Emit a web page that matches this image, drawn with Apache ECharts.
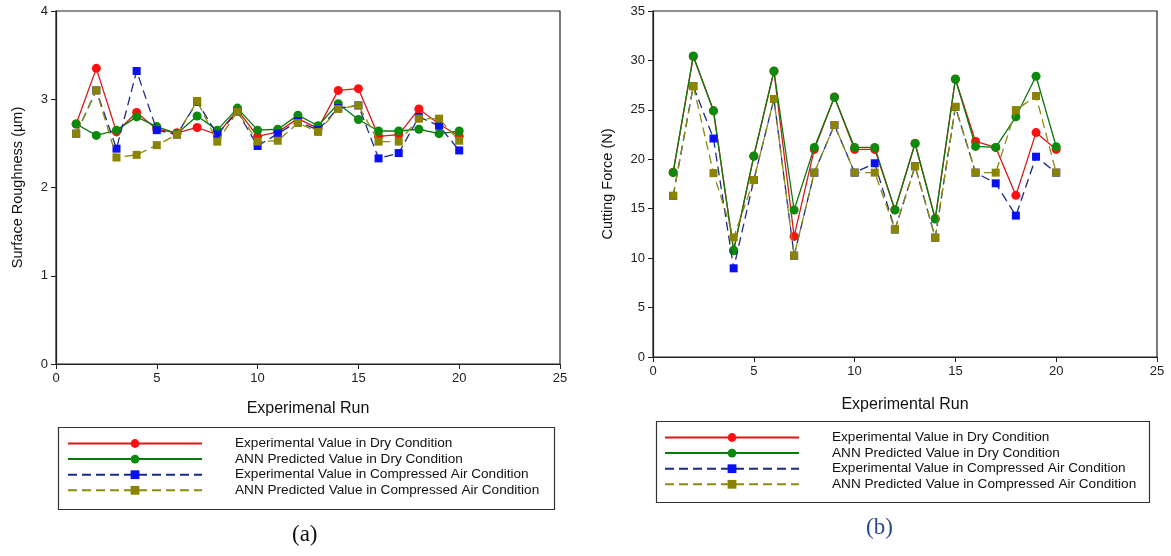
<!DOCTYPE html>
<html>
<head>
<meta charset="utf-8">
<script src="https://cdn.jsdelivr.net/npm/echarts@6/dist/echarts.min.js"></script>
<style>
html,body{margin:0;padding:0;background:#fff;}
#c{width:1171px;height:556px;}
</style>
</head>
<body>
<div id="c"></div>
<script>
// ---------- data ----------
const runs = [1,2,3,4,5,6,7,8,9,10,11,12,13,14,15,16,17,18,19,20];
const seriesNames = [
  'Experimental Value in Dry Condition',
  'ANN Predicted Value in Dry Condition',
  'Experimental Value in Compressed Air Condition',
  'ANN Predicted Value in Compressed Air Condition'
];
// (a) Surface roughness (µm)
const srExpDry = [2.72,3.35,2.63,2.85,2.66,2.62,2.68,2.60,2.88,2.58,2.63,2.78,2.67,3.10,3.12,2.58,2.60,2.89,2.72,2.58];
const srAnnDry = [2.72,2.59,2.65,2.80,2.69,2.61,2.81,2.65,2.90,2.65,2.66,2.82,2.70,2.95,2.77,2.64,2.64,2.66,2.61,2.64];
const srExpAir = [2.61,3.10,2.44,3.32,2.65,2.60,2.97,2.60,2.86,2.47,2.61,2.75,2.65,2.90,2.93,2.33,2.39,2.80,2.70,2.42];
const srAnnAir = [2.61,3.10,2.34,2.37,2.48,2.60,2.98,2.52,2.86,2.52,2.53,2.73,2.63,2.89,2.93,2.52,2.52,2.78,2.78,2.53];
// (b) Cutting force (N)
const cfExpDry = [18.7,30.4,24.9,10.8,20.3,28.9,12.2,21.0,26.3,21.0,21.0,14.9,21.6,14.0,28.1,21.8,21.2,16.35,22.7,21.0];
const cfAnnDry = [18.65,30.45,24.9,10.75,20.33,28.93,14.87,21.2,26.27,21.2,21.2,14.87,21.6,13.96,28.12,21.3,21.2,24.3,28.4,21.27];
const cfExpAir = [16.3,27.4,22.1,8.97,17.9,26.1,10.25,18.65,23.47,18.65,19.6,12.9,19.3,12.07,25.3,18.65,17.57,14.3,20.26,18.65];
const cfAnnAir = [16.3,27.4,18.6,12.1,17.9,26.1,10.25,18.65,23.47,18.65,18.65,12.9,19.3,12.07,25.3,18.65,18.65,24.98,26.4,18.65];

const xName = ['Experimenal Run', 'Experimental Run'];
const yName = ['Surface Roughness (\u00b5m)', 'Cutting Force (N)'];
const panelLabels = ['(a)', '(b)'];

// ---------- styling ----------
const FONT = 'Liberation Sans, Arial, sans-serif';
const styles = [
  {line:'#d81818', sym:'#ff1010', symbol:'circle', size:9, dash:'solid'},
  {line:'#0a7a0a', sym:'#0b8a0b', symbol:'circle', size:9, dash:'solid'},
  {line:'#1a2a8a', sym:'#0a10f0', symbol:'rect', size:8, dash:[9,5]},
  {line:'#8a8a10', sym:'#8a8400', symbol:'rect', size:8, dash:[9,5]}
];

function pairs(arr){ return runs.map((r,i)=>[r, arr[i]]); }

function mkSeries(dataArrs, gi){
  return dataArrs.map((d,k)=>({
    name: seriesNames[k],
    type: 'line',
    xAxisIndex: gi, yAxisIndex: gi,
    data: pairs(d),
    symbol: styles[k].symbol,
    symbolSize: styles[k].size,
    showSymbol: true,
    lineStyle: {color: styles[k].line, width: 1.3, type: styles[k].dash},
    itemStyle: {color: styles[k].sym, borderWidth: 0},
    emphasis: {disabled: true},
    animation: false,
    z: 2 + k
  }));
}

function xAx(gi, gap){
  return {
    gridIndex: gi, type: 'value', min: 0, max: 25, interval: 5,
    name: xName[gi], nameLocation: 'middle', nameGap: gap,
    nameTextStyle: {fontFamily: FONT, fontSize: 16, color: '#111'},
    axisLine: {show: true, onZero: false, lineStyle: {color: '#222', width: 1.2}},
    axisTick: {show: true, length: 5, lineStyle: {color: '#222'}},
    axisLabel: {fontFamily: FONT, fontSize: 13, color: '#222', margin: 8},
    splitLine: {show: false}
  };
}
function yAx(gi, max, interval, gap){
  return {
    gridIndex: gi, type: 'value', min: 0, max: max, interval: interval,
    name: yName[gi], nameLocation: 'middle', nameGap: gap, nameRotate: 90,
    nameTextStyle: {fontFamily: FONT, fontSize: 14.5, color: '#111'},
    axisLine: {show: true, onZero: false, lineStyle: {color: '#222', width: 1.2}},
    axisTick: {show: true, length: 5, lineStyle: {color: '#222'}},
    axisLabel: {fontFamily: FONT, fontSize: 13, color: '#222', margin: 8},
    splitLine: {show: false}
  };
}

function legend(left, top){
  return {
    orient: 'vertical', left: left, top: top, padding: 0,
    itemWidth: 134, itemHeight: 11, itemGap: 0.6,
    data: seriesNames,
    selectedMode: false,
    textStyle: {fontFamily: FONT, fontSize: 13.6, color: '#111', padding: [0,0,0,28], lineHeight: 15}
  };
}

const chart = echarts.init(document.getElementById('c'), null, {renderer: 'canvas'});
chart.setOption({
  backgroundColor: '#fff',
  animation: false,
  grid: [
    {left: 56, top: 11, width: 504, height: 353, show: true, borderColor: '#222', borderWidth: 1.2, backgroundColor: 'transparent'},
    {left: 653, top: 11, width: 504, height: 346, show: true, borderColor: '#222', borderWidth: 1.2, backgroundColor: 'transparent'}
  ],
  xAxis: [xAx(0, 37), xAx(1, 40)],
  yAxis: [yAx(0, 4, 1, 31), yAx(1, 35, 5, 38)],
  legend: [legend(67, 436), legend(664, 430)],
  graphic: [
    {type: 'rect', left: 56, top: 425, shape: {width: 496, height: 82}, style: {fill: 'none', stroke: '#333', lineWidth: 1.2}, z: 0},
    {type: 'rect', left: 654, top: 419, shape: {width: 493, height: 81}, style: {fill: 'none', stroke: '#333', lineWidth: 1.2}, z: 0},
    {type: 'text', left: 292, top: 523, style: {text: panelLabels[0], font: '23px "Liberation Serif", "Times New Roman", serif', fill: '#111'}},
    {type: 'text', left: 866, top: 516, style: {text: panelLabels[1], font: '23px "Liberation Serif", "Times New Roman", serif', fill: '#2b4a8c'}}
  ],
  series: [].concat(
    mkSeries([srExpDry, srAnnDry, srExpAir, srAnnAir], 0),
    mkSeries([cfExpDry, cfAnnDry, cfExpAir, cfAnnAir], 1)
  )
});
</script>
</body>
</html>
